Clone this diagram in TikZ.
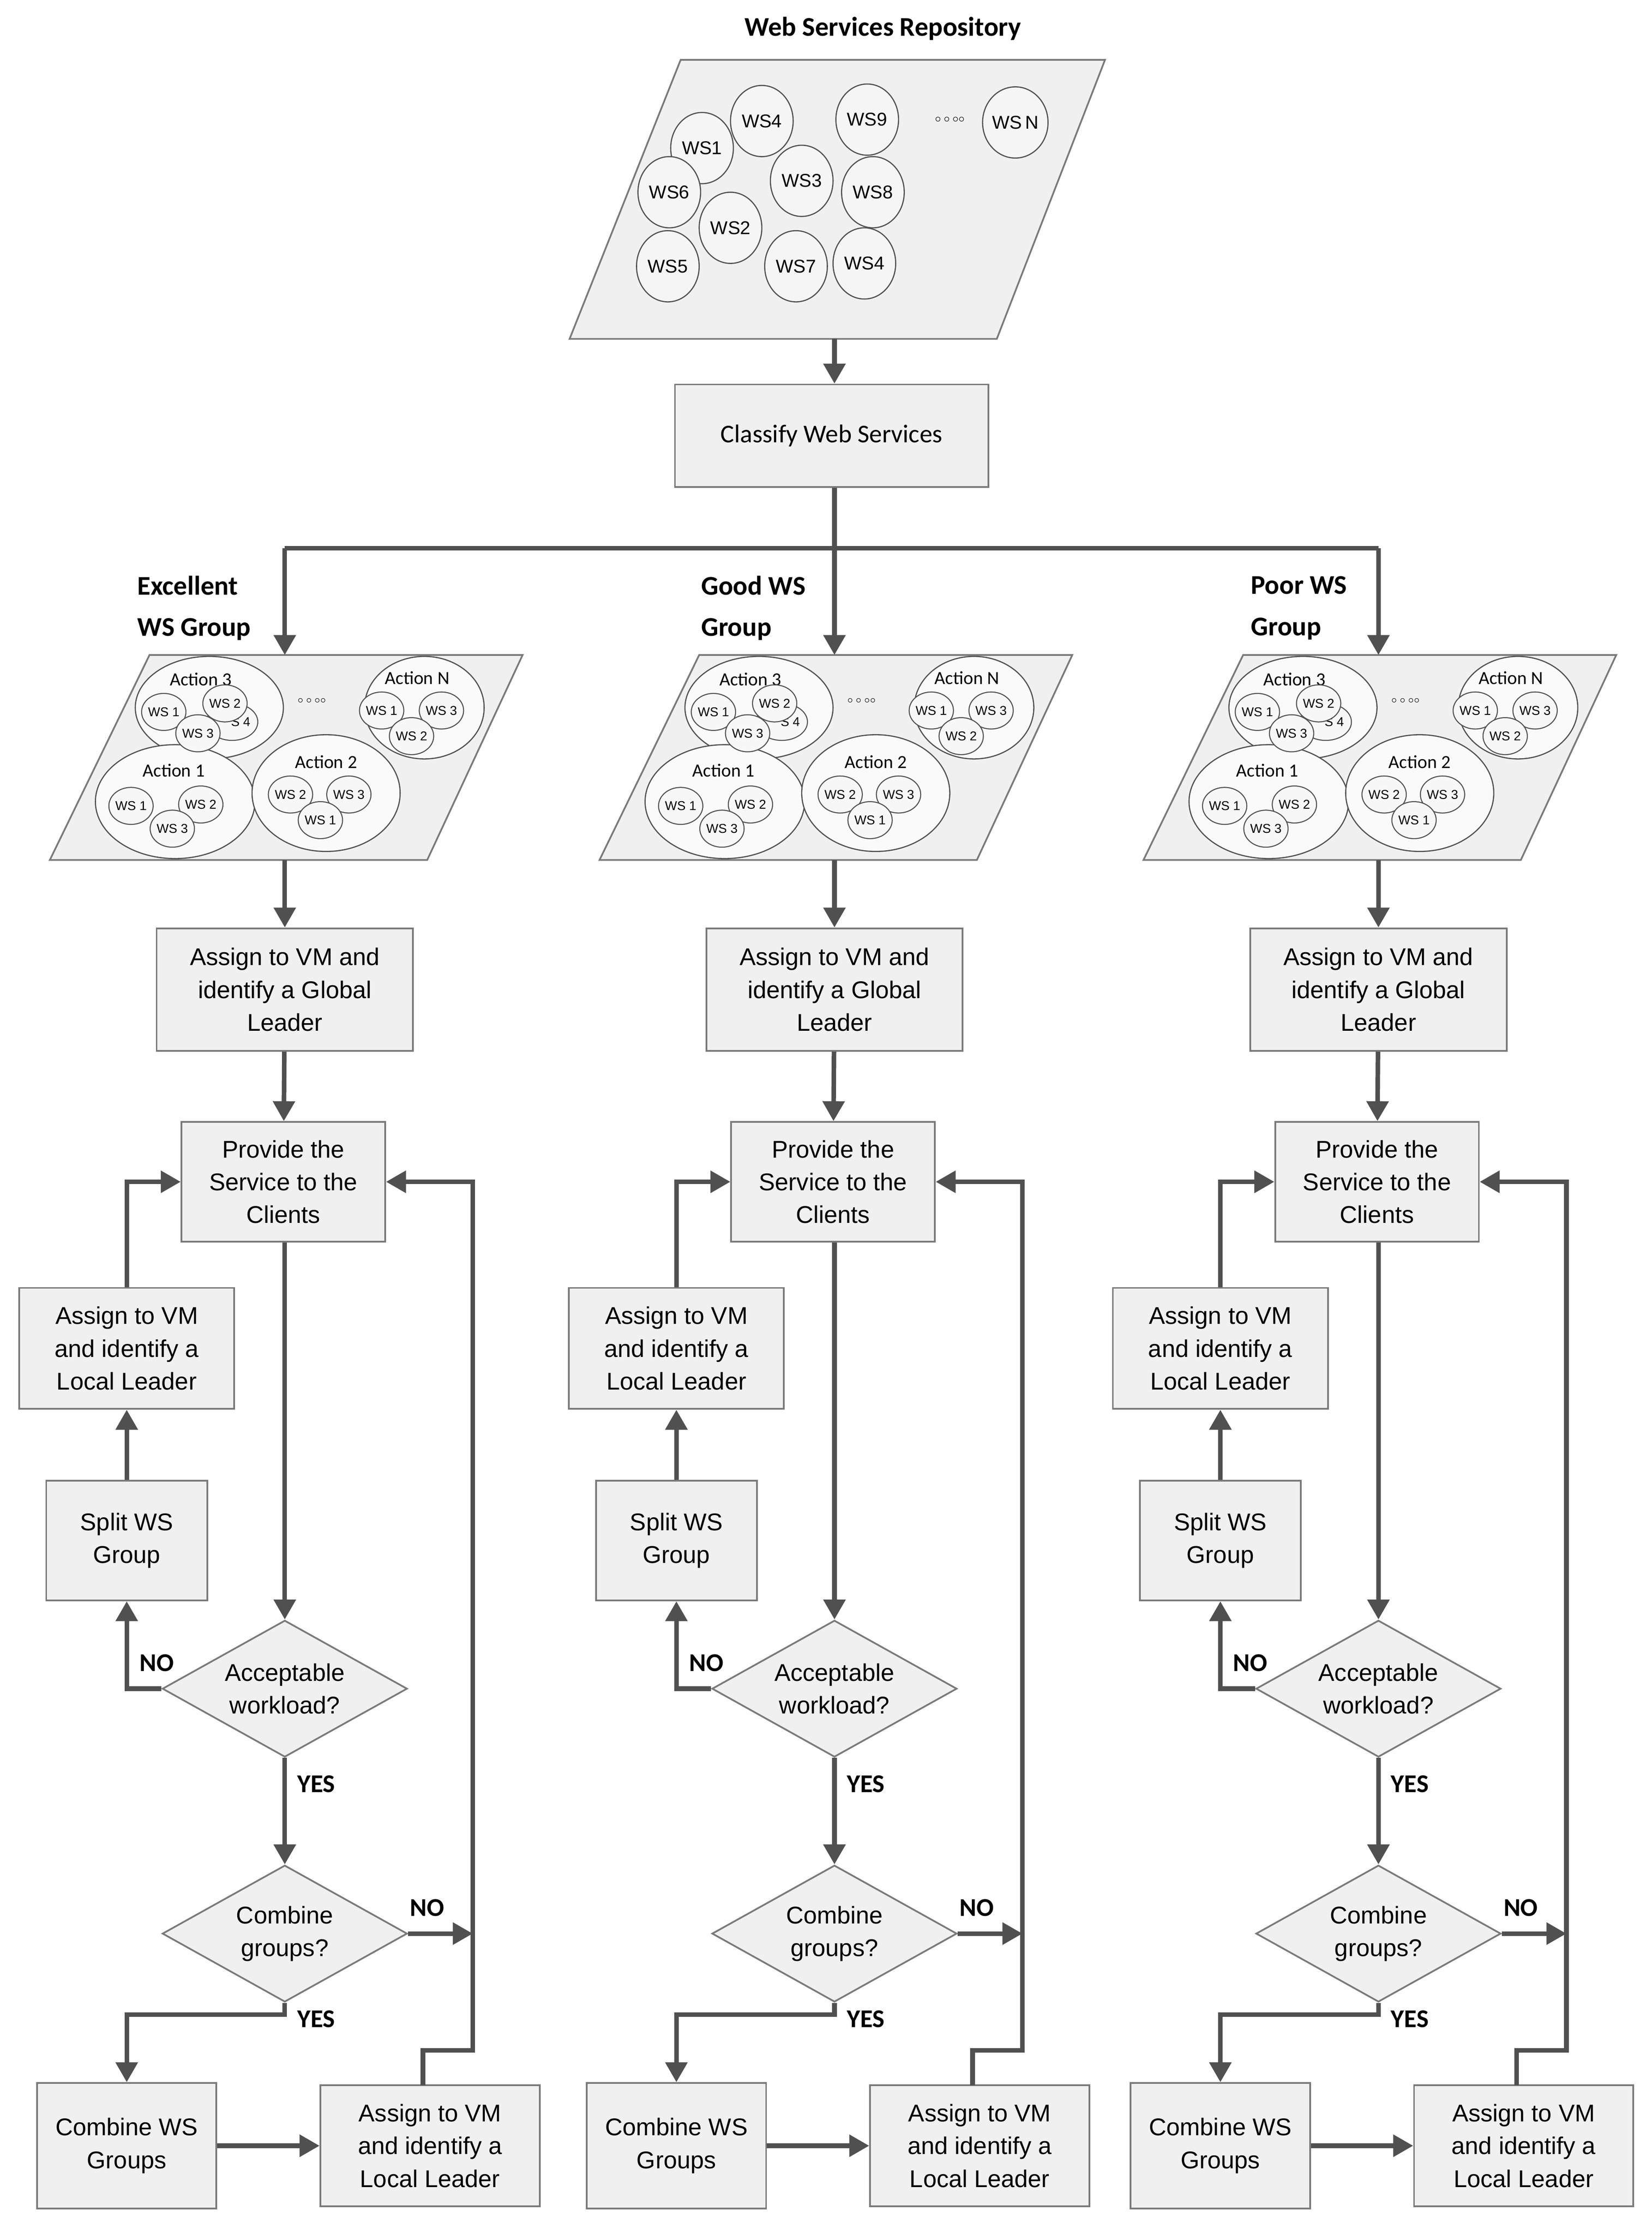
\documentclass[tikz,border=0pt]{standalone}
\usepackage{fontspec}
\setmainfont{Liberation Sans}
\newfontfamily\calfont{Carlito}
\usetikzlibrary{shapes.geometric,arrows.meta}
\definecolor{bd}{HTML}{7A7A7A}
\definecolor{ar}{HTML}{505050}
\definecolor{fl}{HTML}{F0F0F0}
\tikzset{
 box/.style={draw=bd,line width=1.2pt,fill=fl,align=center,font=\fontsize{17}{23}\selectfont},
 dia/.style={draw=bd,line width=1.2pt,fill=fl,diamond,aspect=1.8,inner sep=0pt,minimum width=172pt,minimum height=96pt,align=center,font=\fontsize{17}{23}\selectfont},
 ln/.style={draw=ar,line width=3.2pt},
 arr/.style={ln,-{Triangle[length=14pt,width=15pt]}},
 para/.style={draw=bd,line width=1.2pt,fill=fl},
 ws/.style={draw=ar,line width=0.8pt,fill=white!92!gray,ellipse,minimum width=44pt,minimum height=50pt,inner sep=0pt,font=\fontsize{13}{13}\selectfont},
 sw/.style={draw=ar,line width=0.7pt,fill=white!94!gray,ellipse,minimum width=30pt,minimum height=26pt,inner sep=0pt,font=\fontsize{9}{9}\selectfont},
 act/.style={draw=ar,line width=0.8pt,fill=white!96!gray},
 lab/.style={font=\calfont\bfseries\fontsize{19}{29}\selectfont,align=left,anchor=west},
 yn/.style={font=\calfont\bfseries\fontsize{18}{18}\selectfont},
}
\begin{document}
\begin{tikzpicture}[x=1pt,y=-1pt]
\useasboundingbox (0,0) rectangle (1160,1569);
\node[font=\calfont\bfseries\fontsize{19}{19}\selectfont] (title) at (620,20) {Web Services Repository};
\path[para] (478,42) -- (776,42) -- (700,238) -- (400,238) -- cycle;
\node[ws] (w4) at (535,85) {WS4};
\node[ws] (w1) at (493,104) {WS1};
\node[ws] (w9) at (609,84) {WS9};
\node (dots) at (667,84) {\footnotesize$\circ\circ\circ\circ$};
\node[ws] (wn) at (713,86) {WS\,N};
\node[ws] (w6) at (470,135) {WS6};
\node[ws] (w3) at (563,127) {WS3};
\node[ws] (w8) at (613,135) {WS8};
\node[ws] (w2) at (513,160) {WS2};
\node[ws] (w5) at (469,187) {WS5};
\node[ws] (w7) at (559,187) {WS7};
\node[ws] (w4b) at (607,185) {WS4};
\coordinate (repb) at (586,238);
\node[box,font=\calfont\fontsize{18}{18}\selectfont,minimum width=220pt,minimum height=72pt] (cls) at (584,306) {Classify Web Services};
\draw[arr] (repb) -- (cls.north-|repb);
\coordinate (jl) at (200,385); \coordinate (jr) at (968,385);
\draw[ln] (jl) -- (jr);
\draw[ln] (cls.south-|repb) -- (586,385);
\node[lab] (la) at (93,427) {Excellent\\WS Group};
\node[lab] (lb) at (489,427) {Good WS\\Group};
\node[lab] (lc) at (875,427) {Poor WS\\Group};
\foreach \c/\n in {200/a,586/b,968/c}{
\begin{scope}[shift={(\c-200,0)}]
\coordinate (gt\n) at (200,460); \coordinate (gb\n) at (200,604); \coordinate (jt\n) at (200,385);
\path[para] (105,460) -- (367,460) -- (300,604) -- (35,604) -- cycle;
\draw[arr] (jt\n) -- (gt\n);
\path[act] (147,497) ellipse [x radius=52,y radius=36];
\path[act] (298,497) ellipse [x radius=42,y radius=36];
\path[act] (123,563) ellipse [x radius=56,y radius=40];
\path[act] (229,557) ellipse [x radius=52,y radius=41];
\node[font=\calfont\fontsize{13}{13}\selectfont] (a3\n) at (141,477) {Action 3};
\node[font=\calfont\fontsize{13}{13}\selectfont] (aN\n) at (293,476) {Action N};
\node[font=\calfont\fontsize{13}{13}\selectfont] (a1\n) at (122,541) {Action 1};
\node[font=\calfont\fontsize{13}{13}\selectfont] (a2\n) at (229,535) {Action 2};
\node (d\n) at (219,492) {\scriptsize$\circ\circ\circ\circ$};
\node[sw] (s34\n) at (163,507) {\hspace*{12pt}S 4};
\node[sw] (s31\n) at (115,500) {WS 1};
\node[sw] (s32\n) at (158,494) {WS 2};
\node[sw] (s33\n) at (139,515) {WS 3};
\node[sw] (sN1\n) at (268,499) {WS 1};
\node[sw] (sN3\n) at (310,499) {WS 3};
\node[sw] (sN2\n) at (289,517) {WS 2};
\node[sw] (s11\n) at (92,566) {WS 1};
\node[sw] (s12\n) at (141,565) {WS 2};
\node[sw] (s13\n) at (121,582) {WS 3};
\node[sw] (s22\n) at (204,558) {WS 2};
\node[sw] (s23\n) at (245,558) {WS 3};
\node[sw] (s21\n) at (225,576) {WS 1};
\node[box,minimum width=180pt,minimum height=86pt] (gl\n) at (200,695) {Assign to VM and\\identify a Global\\Leader};
\draw[arr] (gb\n) -- (gl\n);
\node[box,minimum width=143pt,minimum height=84pt] (pr\n) at (199,830) {Provide the\\Service to the\\Clients};
\draw[arr] (gl\n) -- (pr\n);
\node[dia] (ac\n) at (200,1186) {Acceptable\\workload?};
\draw[arr] (pr\n.south-|ac\n) -- (ac\n);
\node[box,minimum width=113pt,minimum height=84pt] (sp\n) at (89,1082) {Split WS\\Group};
\draw[arr] (ac\n.west) -| (sp\n);
\node[yn] (no1\n) at (110,1168) {NO};
\node[box,minimum width=151pt,minimum height=85pt] (ll\n) at (89,947) {Assign to VM\\and identify a\\Local Leader};
\draw[arr] (sp\n) -- (ll\n);
\draw[arr] (ll\n.north) |- (pr\n.west);
\node[dia] (cb\n) at (200,1358) {Combine\\groups?};
\draw[arr] (ac\n) -- (cb\n);
\node[yn] (y1\n) at (222,1253) {YES};
\coordinate (rj\n) at (332,1358);
\draw[arr] (cb\n.east) -- (rj\n);
\node[yn] (no2\n) at (300,1340) {NO};
\node[box,minimum width=126pt,minimum height=88pt] (cw\n) at (89,1507) {Combine WS\\Groups};
\node[box,minimum width=154pt,minimum height=85pt] (lr\n) at (302,1507) {Assign to VM\\and identify a\\Local Leader};
\coordinate (yj\n) at (200,1415);
\coordinate (lt\n) at (297,1464.5);
\draw[arr] (cb\n.south) -- (yj\n) -| (cw\n.north);
\node[yn] (y2\n) at (222,1418) {YES};
\draw[arr] (cw\n) -- (lr\n);
\draw[arr] (lt\n) |- (332,1440) -- (332,830) -- (pr\n.east);
\end{scope}}
\end{tikzpicture}
\end{document}
